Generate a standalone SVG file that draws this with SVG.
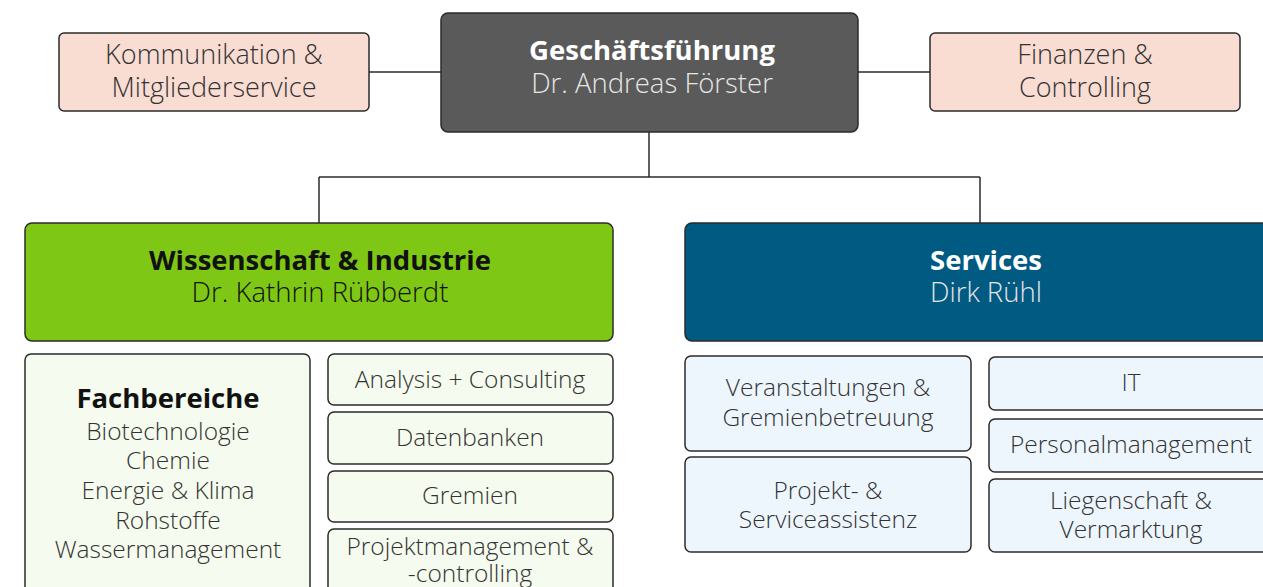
<svg xmlns="http://www.w3.org/2000/svg" width="1263" height="587" viewBox="0 0 1263 587">
  <style>
    .box { stroke: #2b2b2b; stroke-width: 1.5; }
    .pink { fill: #f9dcd2; }
    .dark { fill: #5a5a5a; }
    .green { fill: #7ec715; }
    .blue { fill: #005a82; }
    .lgreen { fill: #f5fbee; }
    .lblue { fill: #eef6fd; }
    text { font-family: "Open Sans", "Liberation Sans", sans-serif; text-anchor: middle; }
    .t { font-weight: 300; font-size: 27px; fill: #333; }
    .s { font-weight: 300; font-size: 24.5px; fill: #333; }
    .hb { font-weight: 700; font-size: 27.5px; }
    .hl { font-weight: 300; font-size: 27.5px; }
    .wt { fill: #ffffff; }
    .lt { fill: #e6e6e6; }
    .bk { fill: #111; }
    .conn { stroke: #2b2b2b; stroke-width: 1.5; fill: none; }
  </style>

  <g id="connectors">
    <line class="conn" x1="369" y1="72" x2="441" y2="72"/>
    <line class="conn" x1="858" y1="72" x2="930" y2="72"/>
    <path class="conn" d="M649,132 V177 M319,177 H980 M319,177 V223 M980,177 V223"/>
  </g>

  <g id="kommunikation">
    <rect class="box pink" x="59" y="33" width="310" height="78" rx="5"/>
    <text class="t" x="214" y="64">Kommunikation &amp;</text>
    <text class="t" x="214" y="97">Mitgliederservice</text>
  </g>

  <g id="geschaeftsfuehrung">
    <rect class="box dark" x="441" y="13" width="417" height="119" rx="7"/>
    <text class="hb wt" x="652" y="60">Geschäftsführung</text>
    <text class="hl lt" x="652" y="93">Dr. Andreas Förster</text>
  </g>

  <g id="finanzen">
    <rect class="box pink" x="930" y="33" width="310" height="78" rx="5"/>
    <text class="t" x="1085" y="64">Finanzen &amp;</text>
    <text class="t" x="1085" y="97">Controlling</text>
  </g>

  <g id="wissenschaft">
    <rect class="box green" x="25" y="223" width="588" height="118" rx="7"/>
    <text class="hb bk" x="320" y="270">Wissenschaft &amp; Industrie</text>
    <text class="hl bk" x="320" y="302">Dr. Kathrin Rübberdt</text>
  </g>

  <g id="services">
    <rect class="box blue" x="685" y="223" width="602" height="118" rx="7"/>
    <text class="hb wt" x="986" y="270">Services</text>
    <text class="hl lt" x="986" y="302">Dirk Rühl</text>
  </g>

  <g id="fachbereiche">
    <rect class="box lgreen" x="25" y="354" width="285" height="250" rx="6"/>
    <text class="hb bk" x="168" y="408">Fachbereiche</text>
    <text class="s" x="168" y="440">Biotechnologie</text>
    <text class="s" x="168" y="469">Chemie</text>
    <text class="s" x="168" y="499">Energie &amp; Klima</text>
    <text class="s" x="168" y="529">Rohstoffe</text>
    <text class="s" x="168" y="558">Wassermanagement</text>
  </g>

  <g id="analysis">
    <rect class="box lgreen" x="328" y="354" width="285" height="51" rx="6"/>
    <text class="s" x="470" y="388">Analysis + Consulting</text>
  </g>

  <g id="datenbanken">
    <rect class="box lgreen" x="328" y="412" width="285" height="52" rx="6"/>
    <text class="s" x="470" y="446">Datenbanken</text>
  </g>

  <g id="gremien">
    <rect class="box lgreen" x="328" y="471" width="285" height="51" rx="6"/>
    <text class="s" x="470" y="504">Gremien</text>
  </g>

  <g id="projektmanagement">
    <rect class="box lgreen" x="328" y="529" width="285" height="80" rx="6"/>
    <text class="s" x="470" y="555">Projektmanagement &amp;</text>
    <text class="s" x="470" y="582">-controlling</text>
  </g>

  <g id="veranstaltungen">
    <rect class="box lblue" x="685" y="356" width="286" height="95" rx="6"/>
    <text class="s" x="828" y="396">Veranstaltungen &amp;</text>
    <text class="s" x="828" y="426">Gremienbetreuung</text>
  </g>

  <g id="projektassistenz">
    <rect class="box lblue" x="685" y="457" width="286" height="95" rx="6"/>
    <text class="s" x="828" y="499">Projekt- &amp;</text>
    <text class="s" x="828" y="528">Serviceassistenz</text>
  </g>

  <g id="it">
    <rect class="box lblue" x="989" y="357" width="290" height="53" rx="6"/>
    <text class="s" x="1131" y="391">IT</text>
  </g>

  <g id="personal">
    <rect class="box lblue" x="989" y="419" width="290" height="53" rx="6"/>
    <text class="s" x="1131" y="453">Personalmanagement</text>
  </g>

  <g id="liegenschaft">
    <rect class="box lblue" x="989" y="479" width="290" height="73" rx="6"/>
    <text class="s" x="1131" y="509">Liegenschaft &amp;</text>
    <text class="s" x="1131" y="538">Vermarktung</text>
  </g>
</svg>
